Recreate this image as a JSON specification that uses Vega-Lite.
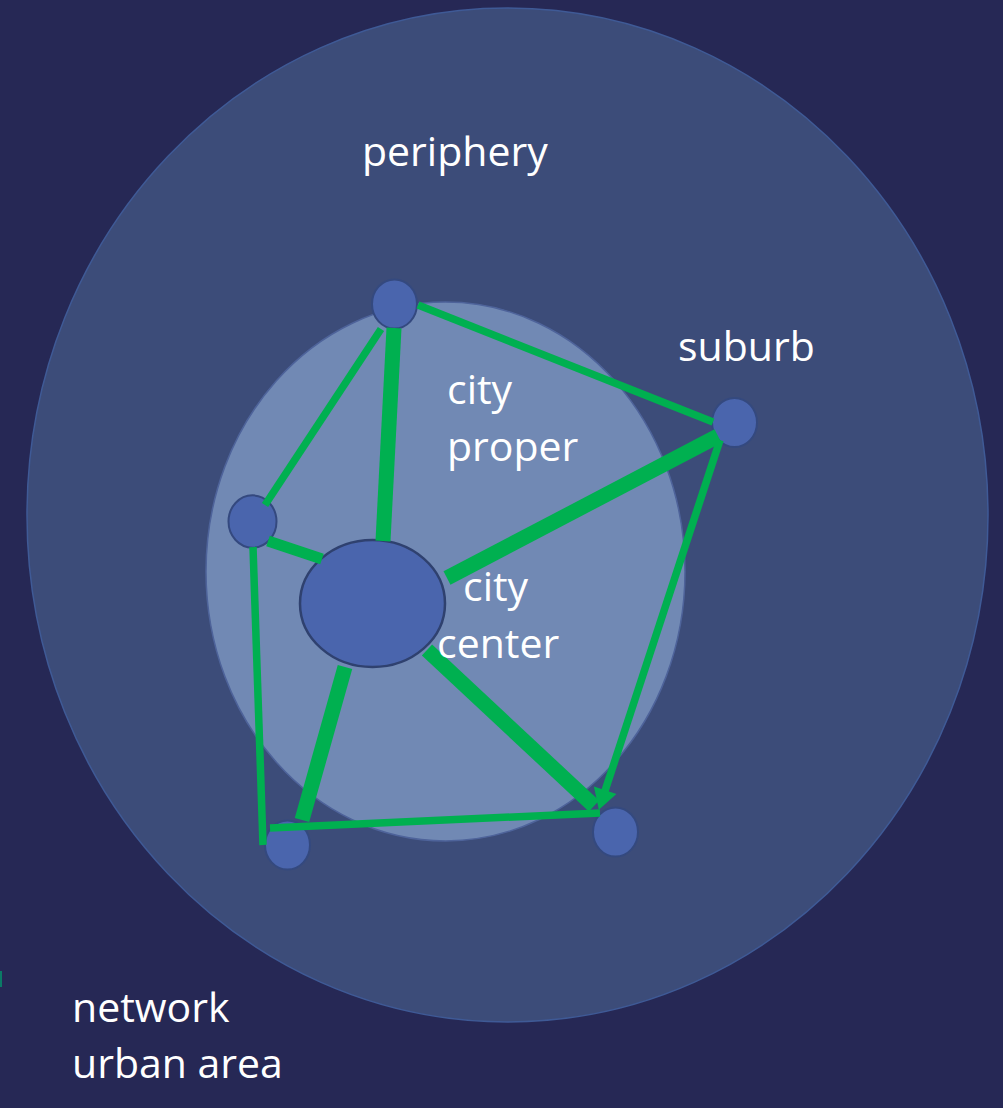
{
  "$schema": "https://vega.github.io/schema/vega-lite/v6.json",
  "width": 1003,
  "height": 1108,
  "autosize": "none",
  "padding": 0,
  "background": "#262855",
  "config": {"view": {"stroke": null}},
  "datasets": {
    "areas": [
      {"name": "urban area", "x": 507.5, "y": 515, "w": 961},
      {"name": "city proper", "x": 445.5, "y": 571.5, "w": 479}
    ],
    "centre": [
      {"name": "city center", "x": 372.5, "y": 603.5, "w": 145}
    ],
    "nodes": [
      {"name": "north", "x": 394.5, "y": 304, "w": 45},
      {"name": "suburb", "x": 734.5, "y": 422.5, "w": 45},
      {"name": "west", "x": 252.5, "y": 521.5, "w": 48},
      {"name": "south-west", "x": 287.5, "y": 845, "w": 45},
      {"name": "south-east", "x": 615.5, "y": 832, "w": 45}
    ],
    "edges": [
      {"from": "north", "to": "city center", "x": 394, "y": 328, "x2": 383, "y2": 541, "flow": 3, "arrow": false},
      {"from": "north", "to": "west", "x": 381, "y": 329, "x2": 265, "y2": 505, "flow": 1, "arrow": false},
      {"from": "north", "to": "suburb", "x": 418, "y": 305, "x2": 713, "y2": 422, "flow": 1, "arrow": false},
      {"from": "suburb", "to": "city center", "x": 718, "y": 436, "x2": 447, "y2": 578, "flow": 3, "arrow": false},
      {"from": "west", "to": "city center", "x": 268, "y": 541, "x2": 322, "y2": 559, "flow": 2, "arrow": false},
      {"from": "west", "to": "south-west", "x": 253, "y": 547, "x2": 263, "y2": 845, "flow": 1, "arrow": false},
      {"from": "city center", "to": "south-west", "x": 345, "y": 667, "x2": 302, "y2": 820, "flow": 3, "arrow": false},
      {"from": "city center", "to": "south-east", "x": 427, "y": 650, "x2": 594, "y2": 806, "flow": 3, "arrow": false},
      {"from": "suburb", "to": "south-east", "x": 720, "y": 440, "x2": 602, "y2": 800, "flow": 1, "arrow": true},
      {"from": "south-west", "to": "south-east", "x": 270, "y": 828, "x2": 600, "y2": 813, "flow": 1, "arrow": false}
    ],
    "stub": [
      {"x": 1, "y": 971, "x2": 1, "y2": 987}
    ],
    "labels": [
      {"text": "periphery", "x": 362, "y": 166},
      {"text": "suburb", "x": 678, "y": 361},
      {"text": "city", "x": 447, "y": 404},
      {"text": "proper", "x": 447, "y": 461},
      {"text": "city", "x": 463, "y": 601},
      {"text": "center", "x": 437, "y": 658},
      {"text": "network", "x": 72, "y": 1022},
      {"text": "urban area", "x": 72, "y": 1078}
    ]
  },
  "layer": [
    {
      "data": {"name": "areas"},
      "transform": [{"filter": "datum.name === 'urban area'"}],
      "mark": {"type": "point", "filled": true, "opacity": 1, "color": "#3c4c79", "stroke": "#3f5a96", "strokeWidth": 1.5,
        "shape": "M 1 0 C 1 0.5827 0.5523 1.055 0 1.055 C -0.5523 1.055 -1 0.5827 -1 0 C -1 -0.5827 -0.5523 -1.055 0 -1.055 C 0.5523 -1.055 1 -0.5827 1 0 Z"},
      "encoding": {
        "x": {"field": "x", "type": "quantitative", "scale": {"domain": [0, 1003], "nice": false, "zero": false}, "axis": null},
        "y": {"field": "y", "type": "quantitative", "scale": {"domain": [0, 1108], "nice": false, "zero": false, "reverse": true}, "axis": null},
        "size": {"field": "w", "type": "quantitative", "scale": {"type": "pow", "exponent": 2, "domain": [0, 1000], "range": [0, 1000000]}, "legend": null}
      }
    },
    {
      "data": {"name": "areas"},
      "transform": [{"filter": "datum.name === 'city proper'"}],
      "mark": {"type": "point", "filled": true, "opacity": 1, "color": "#7189b4", "stroke": "#4e639a", "strokeWidth": 1.5,
        "shape": "M 1 0 C 1 0.6213 0.5523 1.125 0 1.125 C -0.5523 1.125 -1 0.6213 -1 0 C -1 -0.6213 -0.5523 -1.125 0 -1.125 C 0.5523 -1.125 1 -0.6213 1 0 Z"},
      "encoding": {
        "x": {"field": "x", "type": "quantitative"},
        "y": {"field": "y", "type": "quantitative"},
        "size": {"field": "w", "type": "quantitative"}
      }
    },
    {
      "data": {"name": "centre"},
      "mark": {"type": "point", "filled": true, "opacity": 1, "color": "#4a65ad", "stroke": "#2f416f", "strokeWidth": 2.5,
        "shape": "M 1 0 C 1 0.4838 0.5523 0.876 0 0.876 C -0.5523 0.876 -1 0.4838 -1 0 C -1 -0.4838 -0.5523 -0.876 0 -0.876 C 0.5523 -0.876 1 -0.4838 1 0 Z"},
      "encoding": {
        "x": {"field": "x", "type": "quantitative"},
        "y": {"field": "y", "type": "quantitative"},
        "size": {"field": "w", "type": "quantitative"}
      }
    },
    {
      "data": {"name": "nodes"},
      "mark": {"type": "point", "filled": true, "opacity": 1, "color": "#4a65ad", "stroke": "#34497f", "strokeWidth": 2,
        "shape": "M 1 0 C 1 0.602 0.5523 1.09 0 1.09 C -0.5523 1.09 -1 0.602 -1 0 C -1 -0.602 -0.5523 -1.09 0 -1.09 C 0.5523 -1.09 1 -0.602 1 0 Z"},
      "encoding": {
        "x": {"field": "x", "type": "quantitative"},
        "y": {"field": "y", "type": "quantitative"},
        "size": {"field": "w", "type": "quantitative"}
      }
    },
    {
      "data": {"name": "edges"},
      "mark": {"type": "rule", "color": "#00b050", "strokeCap": "butt"},
      "encoding": {
        "x": {"field": "x", "type": "quantitative"},
        "y": {"field": "y", "type": "quantitative"},
        "x2": {"field": "x2"},
        "y2": {"field": "y2"},
        "strokeWidth": {"field": "flow", "type": "quantitative", "scale": {"domain": [1, 3], "range": [7.5, 15]}, "legend": null}
      }
    },
    {
      "data": {"name": "edges"},
      "transform": [{"filter": "datum.arrow"}],
      "mark": {"type": "point", "shape": "triangle-up", "filled": true, "opacity": 1, "color": "#00b050", "size": 560, "angle": 198},
      "encoding": {
        "x": {"field": "x2", "type": "quantitative"},
        "y": {"field": "y2", "type": "quantitative"}
      }
    },
    {
      "data": {"name": "stub"},
      "mark": {"type": "rule", "color": "#0b7a66", "strokeWidth": 2},
      "encoding": {
        "x": {"field": "x", "type": "quantitative"},
        "y": {"field": "y", "type": "quantitative"},
        "x2": {"field": "x2"},
        "y2": {"field": "y2"}
      }
    },
    {
      "data": {"name": "labels"},
      "mark": {"type": "text", "align": "left", "baseline": "alphabetic", "font": "Open Sans", "fontSize": 41, "color": "#ffffff"},
      "encoding": {
        "x": {"field": "x", "type": "quantitative"},
        "y": {"field": "y", "type": "quantitative"},
        "text": {"field": "text"}
      }
    }
  ]
}
